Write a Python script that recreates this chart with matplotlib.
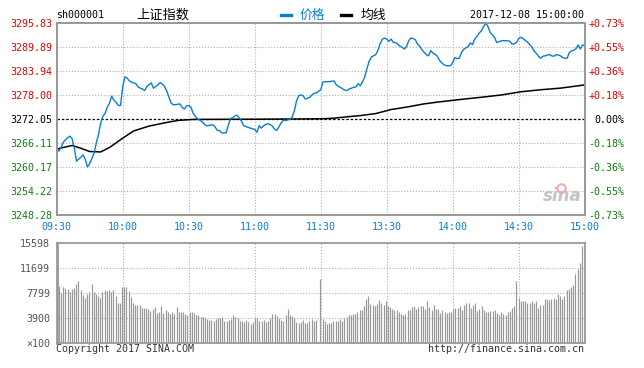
import numpy as np
import matplotlib
matplotlib.use('Agg')
import matplotlib.pyplot as plt
from matplotlib.lines import Line2D

plt.rcParams['font.family'] = ['DejaVu Sans Mono', 'Noto Sans CJK SC']

# --- data ---
prev_close = 3272.05
price_levels = [3248.28, 3254.22, 3260.17, 3266.11, 3272.05, 3278.00, 3283.94, 3289.89, 3295.83]
price_labels = ['3248.28', '3254.22', '3260.17', '3266.11', '3272.05', '3278.00', '3283.94', '3289.89', '3295.83']
pct_labels = ['-0.73%', '-0.55%', '-0.36%', '-0.18%', '0.00%', '+0.18%', '+0.36%', '+0.55%', '+0.73%']
time_pos = [0, 30, 60, 90, 120, 150, 180, 210, 240]
time_labels = ['09:30', '10:00', '10:30', '11:00', '11:30', '13:30', '14:00', '14:30', '15:00']

# one price per minute, index 0 = 09:30, 120 = 11:30, 121 = 13:01, 240 = 15:00
price_0930 = [3264.9, 3264.1, 3265.0, 3266.3, 3266.9, 3267.4, 3267.8, 3267.2, 3264.9, 3261.6,
              3262.1, 3262.6, 3263.2, 3262.0, 3260.2, 3261.0, 3262.3, 3263.6, 3266.1, 3268.2,
              3271.1, 3272.7, 3273.5, 3275.0, 3276.0, 3277.7, 3276.7, 3276.2, 3275.4, 3275.4]
price_1000 = [3280.0, 3282.5, 3282.2, 3281.5, 3281.2, 3281.0, 3280.8, 3280.0, 3279.7, 3279.5,
              3279.1, 3280.1, 3280.6, 3281.0, 3279.7, 3280.1, 3280.5, 3281.1, 3280.7, 3280.1,
              3279.0, 3277.5, 3276.0, 3275.6, 3275.6, 3275.7, 3275.8, 3275.0, 3274.5, 3275.3]
price_1030 = [3275.4, 3275.0, 3273.5, 3272.7, 3272.1, 3271.8, 3271.4, 3270.9, 3270.4, 3270.4,
              3270.6, 3270.6, 3270.1, 3269.2, 3269.2, 3268.6, 3268.6, 3268.6, 3270.5, 3272.2,
              3272.4, 3272.8, 3273.0, 3272.3, 3271.5, 3270.4, 3270.2, 3270.0, 3269.8, 3269.6]
price_1100 = [3269.5, 3268.75, 3270.4, 3269.8, 3270.4, 3270.7, 3270.9, 3270.7, 3270.3, 3269.6,
              3269.2, 3270.1, 3271.1, 3271.7, 3271.7, 3271.8, 3272.0, 3272.5, 3274.0, 3276.5,
              3277.8, 3278.0, 3277.8, 3277.0, 3277.2, 3277.4, 3278.0, 3278.4, 3278.5, 3278.9]
price_1130 = [3279.3]
price_1300 = [3281.2, 3281.3, 3281.3, 3281.3, 3281.4, 3281.5, 3280.6, 3280.1, 3279.9, 3279.5,
              3279.2, 3279.1, 3279.5, 3279.7, 3279.9, 3280.0, 3280.8, 3280.3, 3281.2, 3282.5,
              3284.5, 3286.3, 3287.4, 3287.7, 3288.0, 3289.0, 3290.7, 3291.8, 3292.1, 3291.85]
price_1330 = [3291.3, 3291.85, 3291.0, 3291.0, 3290.6, 3290.1, 3289.8, 3289.4, 3290.0, 3291.4,
              3292.1, 3292.0, 3291.7, 3290.6, 3290.1, 3289.2, 3288.6, 3288.0, 3287.7, 3289.0,
              3288.4, 3288.1, 3287.6, 3286.6, 3286.0, 3285.5, 3285.25, 3285.25, 3285.25, 3286.0]
price_1400 = [3287.3, 3287.0, 3287.1, 3288.5, 3289.3, 3289.7, 3290.0, 3290.9, 3290.5, 3291.85,
              3292.5, 3293.3, 3293.9, 3294.9, 3295.8, 3295.0, 3293.5, 3292.9, 3292.3, 3291.0,
              3291.2, 3291.4, 3291.45, 3291.45, 3291.4, 3291.3, 3290.6, 3290.7, 3291.0, 3292.0]
price_1430 = [3292.3, 3292.0, 3291.5, 3291.1, 3290.5, 3289.9, 3288.9, 3288.3, 3287.6, 3287.1,
              3287.6, 3287.7, 3287.9, 3288.0, 3287.7, 3287.6, 3288.0, 3287.9, 3287.7, 3287.3,
              3287.1, 3287.1, 3288.5, 3288.9, 3289.1, 3289.4, 3290.4, 3289.4, 3290.4, 3290.2]

avg_min = [0, 3, 7, 11, 15, 20, 24, 30, 35, 42, 50, 55, 62, 90, 120, 126, 132, 138, 145,
           152, 159, 167, 174, 182, 194, 202, 211, 220, 229, 240]
avg_val = [3264.6, 3265.0, 3265.5, 3264.8, 3264.0, 3263.9, 3265.0, 3267.3, 3269.1, 3270.3,
           3271.2, 3271.7, 3271.95, 3272.0, 3272.1, 3272.25, 3272.6, 3272.9, 3273.4,
           3274.4, 3275.0, 3275.8, 3276.3, 3276.8, 3277.5, 3278.0, 3278.8, 3279.3, 3279.7, 3280.5]

# volume (x100 shares) per minute
vol_0930 = [8900, 7800, 8700, 8600, 8400, 8000, 8400, 8600, 9200, 9700,
            8300, 7500, 7000, 7600, 7900, 9200, 7900, 7600, 7300, 7000,
            8000, 8300, 8100, 8300, 8000, 8200, 7400, 6300, 6300, 8700]
vol_1000 = [8700, 8700, 8100, 7100, 6200, 6000, 5900, 5900, 5500, 5500,
            5400, 5300, 5000, 5300, 5600, 4700, 4900, 5700, 4700, 5200,
            4900, 4500, 4800, 4600, 5600, 4800, 4900, 4800, 4500, 4400]
vol_1030 = [4800, 4900, 4700, 4400, 4300, 4100, 4000, 4000, 3700, 3600,
            3600, 3500, 3800, 3900, 3900, 4100, 3500, 3400, 3600, 3800,
            4400, 4100, 3900, 3500, 3400, 3300, 3600, 3200, 3000, 3200]
vol_1100 = [3900, 3900, 3500, 3500, 3600, 3300, 3500, 3900, 4600, 4600,
            4200, 3900, 3600, 3500, 4400, 5300, 4400, 4200, 3900, 3300,
            3100, 3300, 3600, 3100, 3100, 3500, 3800, 3500, 3600, 200]
vol_1130 = [10000]
vol_1300 = [3700, 3400, 3000, 3100, 3100, 3400, 3500, 3400, 3700, 3500,
            3900, 4000, 4300, 4400, 4600, 4500, 4900, 5200, 5200, 5700,
            6800, 7400, 6100, 6000, 5800, 6100, 6700, 6300, 5900, 6600]
vol_1330 = [5800, 5600, 5300, 5100, 5200, 4800, 4600, 4400, 4600, 5200,
            5200, 5600, 5700, 5300, 5600, 5800, 5700, 5300, 6500, 5600,
            5100, 6000, 5300, 5300, 4700, 5100, 4900, 4700, 4900, 4800]
vol_1400 = [5300, 5500, 5500, 5700, 5200, 5900, 6200, 6200, 5500, 6000,
            6200, 5000, 5300, 5700, 5200, 4800, 4900, 5000, 5000, 5200,
            4700, 4400, 4800, 4600, 4400, 4800, 5000, 5500, 5700, 9600]
vol_1430 = [7000, 6600, 6500, 6600, 6300, 6300, 6500, 6200, 6500, 5400,
            6000, 6000, 6800, 6800, 6700, 6800, 7000, 6900, 7600, 7300,
            6800, 7300, 8200, 8400, 8800, 9000, 10700, 11600, 12500, 15200]
vol_levels = [0, 3900, 7799, 11699, 15598]
vol_labels = ['\u00d7100', '3900', '7799', '11699', '15598']

price = price_0930 + price_1000 + price_1030 + price_1100 + price_1130 + \
        price_1300 + price_1330 + price_1400 + price_1430
vol = vol_0930 + vol_1000 + vol_1030 + vol_1100 + vol_1130 + \
      vol_1300 + vol_1330 + vol_1400 + vol_1430
minutes = np.arange(len(price))
vmin = np.arange(len(vol))

# --- styles ---
W, H = 644, 368
blue = '#0a7dd0'
red = '#e00000'
green = '#137a13'
grey = '#999999'
gridc = '#b0b0b0'
dot = (0, (1, 1.6))

def fx(px):
    return px / W

def fy(py):
    return 1 - py / H

fig = plt.figure(figsize=(W / 100, H / 100), dpi=100)
ax1 = fig.add_axes([fx(56.7), fy(215), fx(584.7) - fx(56.7), fy(23) - fy(215)])
ax2 = fig.add_axes([fx(56.7), fy(343), fx(584.7) - fx(56.7), fy(243) - fy(343)])

# price panel
ax1.set_xlim(0, 240)
ax1.set_ylim(price_levels[0], price_levels[-1])
for lv in price_levels[1:-1]:
    if lv != prev_close:
        ax1.axhline(lv, color=gridc, lw=0.8, ls=dot, zorder=1)
for t in time_pos[1:-1]:
    ax1.axvline(t, color=gridc, lw=0.8, ls=dot, zorder=1)
ax1.axhline(prev_close, color='black', lw=0.9, ls=(0, (2, 1.5)), zorder=2)
ax1.plot(minutes, price, color=blue, lw=1.0, zorder=4)
ax1.plot(avg_min, avg_val, color='black', lw=1.1, zorder=3)

ax1.set_yticks(price_levels)
ax1.set_yticklabels(price_labels)
ax1.set_xticks(time_pos)
ax1.set_xticklabels(time_labels)
ax1.tick_params(axis='both', length=0, labelsize=7.2)
ax1.tick_params(axis='y', pad=3.5)
ax1.tick_params(axis='x', pad=5.2, colors=blue)
for lab, lv in zip(ax1.get_yticklabels(), price_levels):
    lab.set_color(red if lv > prev_close else ('black' if lv == prev_close else green))

axr = ax1.twinx()
axr.set_ylim(price_levels[0], price_levels[-1])
axr.set_yticks(price_levels)
axr.set_yticklabels(pct_labels, ha='right')
axr.tick_params(axis='y', length=0, labelsize=7.2, pad=28.4)
for lab, lv in zip(axr.get_yticklabels(), price_levels):
    lab.set_color(red if lv > prev_close else ('black' if lv == prev_close else green))

for a in (ax1, axr):
    for s in a.spines.values():
        s.set_color(grey)
        s.set_linewidth(1.3)

# sina watermark
ax1.text(0.995, 0.05, 'sina', transform=ax1.transAxes, ha='right', va='bottom',
         fontsize=12, fontstyle='italic', fontweight='bold', color='#c4c4c4',
         family='DejaVu Sans', zorder=2)
ax1.plot([0.955], [0.14], marker='o', ms=6, mfc='none', mec='#f2a8a8', mew=1.5,
         transform=ax1.transAxes, zorder=2)

# volume panel
ax2.set_xlim(-1, 241.3)
ax2.set_ylim(0, vol_levels[-1])
for lv in vol_levels[1:-1]:
    ax2.axhline(lv, color=gridc, lw=0.8, ls=dot, zorder=1)
for t in time_pos[1:-1]:
    ax2.axvline(-1 + t * 242.3 / 240, color=gridc, lw=0.8, ls=dot, zorder=1)
ax2.vlines(vmin, 0, vol, color='#999999', lw=0.85, zorder=2)
ax2.set_yticks(vol_levels)
ax2.set_yticklabels(vol_labels)
ax2.set_xticks([])
ax2.tick_params(axis='y', length=0, labelsize=7.2, pad=4.8, colors='#555555')
for s in ax2.spines.values():
    s.set_color(grey)
    s.set_linewidth(1.3)
ax2.spines['left'].set_linewidth(2.0)

# header
fig.text(fx(56), fy(15), 'sh000001', fontsize=7.2, va='center', ha='left')
fig.text(fx(163), fy(15), '上证指数', fontsize=9.5, va='center', ha='center',
         family=['Noto Sans CJK SC', 'DejaVu Sans'])
fig.add_artist(Line2D([fx(281), fx(291)], [fy(15), fy(15)], color=blue, lw=2.4,
                      transform=fig.transFigure))
fig.text(fx(300), fy(15), '价格', fontsize=9.2, va='center', ha='left', color=blue,
         family=['Noto Sans CJK SC', 'DejaVu Sans'])
fig.add_artist(Line2D([fx(341), fx(351)], [fy(15), fy(15)], color='black', lw=2.4,
                      transform=fig.transFigure))
fig.text(fx(361), fy(15), '均线', fontsize=9.2, va='center', ha='left',
         family=['Noto Sans CJK SC', 'DejaVu Sans'])
fig.text(fx(584), fy(15), '2017-12-08 15:00:00', fontsize=7.2, va='center', ha='right')

# footer
fig.text(fx(56), fy(349), 'Copyright 2017 SINA.COM', fontsize=7.2, va='center', ha='left',
         color='#333333')
fig.text(fx(584), fy(349), 'http://finance.sina.com.cn', fontsize=7.2, va='center',
         ha='right', color='#333333')

fig.savefig('out.png', dpi=100, facecolor='white')
